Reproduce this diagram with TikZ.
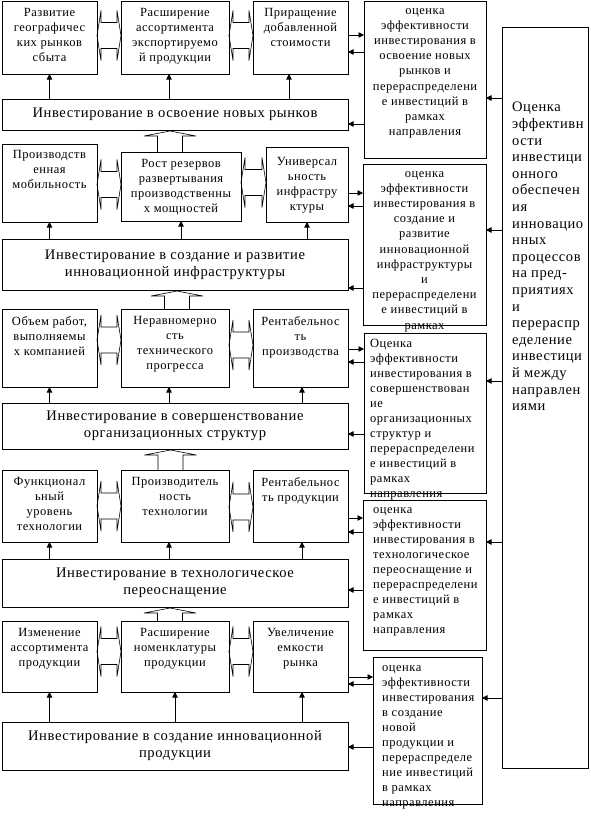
\documentclass[tikz,border=0pt]{standalone}
\usepackage{fontspec}
\setmainfont{Liberation Serif}[LetterSpace=4]
\usetikzlibrary{calc,positioning,arrows.meta}
\tikzstyle{frame} = [draw,fill=white,line width=0.8pt,inner sep=0pt,outer sep=0pt,anchor=north west]
\tikzstyle{arr} = [line width=0.8pt,-{Triangle[length=5.5pt,width=5.5pt]}]
\tikzstyle{twin} = [line width=0.6pt]
\tikzstyle{celltext} = [anchor=north,align=center,inner sep=0pt,font=\fontsize{12.5}{15}\selectfont,execute at begin node=\strut]
\tikzstyle{evaltext} = [celltext,anchor=north west,align=left]
\tikzstyle{widetext} = [align=center,font=\fontsize{14.6}{17}\selectfont]
% hollow two-way arrow between neighbouring boxes
\newcommand{\twoway}[3]{%
  \draw[twin] let \p1=([yshift=#3pt]#1.east), \p2=(#2.west) in
    (\p1) -- (\x1+4pt,\y1+25pt) -- (\x1+4pt,\y1+13pt) -- (\x2-4pt,\y1+13pt)
    -- (\x2-4pt,\y1+25pt) -- (\x2,\y1) -- (\x2-4pt,\y1-25pt) -- (\x2-4pt,\y1-13pt)
    -- (\x1+4pt,\y1-13pt) -- (\x1+4pt,\y1-25pt) -- cycle;}
% hollow block arrow up into the box above
\newcommand{\upblock}[3]{%
  \draw[twin] let \p1=([xshift=#3pt]#1.north), \p2=(#2.south) in
    (\x1+12.5pt,\y1) -- (\x1+12.5pt,\y2-6pt) -- (\x1+26pt,\y2-6pt) -- (\x1,\y2-1pt)
    -- (\x1-26pt,\y2-6pt) -- (\x1-12.5pt,\y2-6pt) -- (\x1-12.5pt,\y1);}

\begin{document}
\begin{tikzpicture}[x=1pt,y=-1pt]
  \useasboundingbox (0,0) rectangle (590,816);

  % row 1
  \node[frame,minimum width=95,minimum height=73] (c11) at (2,1) {};
  \node[celltext] (c11t) at ([yshift=-7.5pt]c11.north) {Развитие\\географичес\\ких рынков\\сбыта};
  \node[frame,minimum width=108,minimum height=73] (c12) at (121,1) {};
  \node[celltext] (c12t) at ([yshift=-7.5pt]c12.north) {Расширение\\ассортимента\\экспортируемо\\й продукции};
  \node[frame,minimum width=95,minimum height=73] (c13) at (253,1) {};
  \node[celltext] (c13t) at ([yshift=-7.5pt]c13.north) {Приращение\\добавленной\\стоимости};
  \node[frame,widetext,minimum width=346,minimum height=31] (w1) at (2,99) {Инвестирование в освоение новых рынков};

  % row 2
  \node[frame,minimum width=95,minimum height=78] (c21) at (2,144) {};
  \node[celltext] (c21t) at ([yshift=-6.5pt]c21.north) {Производств\\енная\\мобильность};
  \node[frame,minimum width=120,minimum height=69] (c22) at (121,152) {};
  \node[celltext] (c22t) at ([yshift=-7pt]c22.north) {Рост резервов\\развертывания\\производственны\\х мощностей};
  \node[frame,minimum width=82,minimum height=75] (c23) at (266,147) {};
  \node[celltext] (c23t) at ([yshift=-10pt]c23.north) {Универсал\\ьность\\инфрастру\\ктуры};
  \node[frame,widetext,minimum width=346,minimum height=51] (w2) at (2,239) {Инвестирование в создание и развитие\\инновационной инфраструктуры};

  % row 3
  \node[frame,minimum width=95,minimum height=78] (c31) at (2,309) {};
  \node[celltext] (c31t) at ([yshift=-7.5pt]c31.north) {Объем работ,\\выполняемы\\х компанией};
  \node[frame,minimum width=108,minimum height=78] (c32) at (121,309) {};
  \node[celltext] (c32t) at ([yshift=-7.5pt]c32.north) {Неравномерно\\сть\\технического\\прогресса};
  \node[frame,minimum width=95,minimum height=78] (c33) at (253,309) {};
  \node[celltext] (c33t) at ([yshift=-7.5pt]c33.north) {Рентабельнос\\ть\\производства};
  \node[frame,widetext,minimum width=346,minimum height=46] (w3) at (2,403) {Инвестирование в совершенствование\\организационных структур};

  % row 4
  \node[frame,minimum width=95,minimum height=72] (c41) at (2,470) {};
  \node[celltext] (c41t) at ([yshift=-7.5pt]c41.north) {Функционал\\ьный\\уровень\\технологии};
  \node[frame,minimum width=108,minimum height=72] (c42) at (121,470) {};
  \node[celltext] (c42t) at ([yshift=-7.5pt]c42.north) {Производитель\\ность\\технологии};
  \node[frame,minimum width=95,minimum height=72] (c43) at (253,470) {};
  \node[celltext] (c43t) at ([yshift=-7.5pt]c43.north) {Рентабельнос\\ть продукции};
  \node[frame,widetext,minimum width=346,minimum height=48] (w4) at (2,559) {Инвестирование в технологическое\\переоснащение};

  % row 5
  \node[frame,minimum width=95,minimum height=71] (c51) at (2,621) {};
  \node[celltext] (c51t) at ([yshift=-7.5pt]c51.north) {Изменение\\ассортимента\\продукции};
  \node[frame,minimum width=108,minimum height=71] (c52) at (121,621) {};
  \node[celltext] (c52t) at ([yshift=-7.5pt]c52.north) {Расширение\\номенклатуры\\продукции};
  \node[frame,minimum width=95,minimum height=71] (c53) at (253,621) {};
  \node[celltext] (c53t) at ([yshift=-7.5pt]c53.north) {Увеличение\\емкости\\рынка};
  \node[frame,widetext,minimum width=346,minimum height=48] (w5) at (2,722) {Инвестирование в создание инновационной\\продукции};

  % evaluation boxes, each one covers the text that runs out of the one above
  \node[frame,minimum width=122,minimum height=157] (e1) at (364,1) {};
  \node[celltext,font=\fontsize{12.5}{15.2}\selectfont] (e1t) at ([yshift=-7pt]e1.north) {оценка\\эффективности\\инвестирования в\\освоение новых\\рынков и\\перераспределени\\е инвестиций в\\рамках\\направления};
  \node[frame,minimum width=123,minimum height=161] (e2) at (363,164) {};
  \node[celltext,font=\fontsize{12.5}{15.2}\selectfont] (e2t) at ([yshift=-7pt]e2.north) {оценка\\эффективности\\инвестирования в\\создание и\\развитие\\инновационной\\инфраструктуры\\и\\перераспределени\\е инвестиций в\\рамках};
  \node[frame,minimum width=122,minimum height=160] (e3) at (364,333) {};
  \node[evaltext,font=\fontsize{12.5}{15}\selectfont] (e3t) at ([xshift=6pt,yshift=-6pt]e3.north west) {Оценка\\эффективности\\инвестирования в\\совершенствован\\ие\\организационных\\структур и\\перераспределени\\е инвестиций в\\рамках\\направления};
  \node[frame,minimum width=123,minimum height=150] (e4) at (363,500) {};
  \node[evaltext,font=\fontsize{12.5}{15}\selectfont] (e4t) at ([xshift=10pt,yshift=-7pt]e4.north west) {оценка\\эффективности\\инвестирования в\\технологическое\\переоснащение и\\перераспределени\\е инвестиций в\\рамках\\направления};
  \node[frame,minimum width=109,minimum height=147] (e5) at (373,657) {};
  \node[evaltext,font=\fontsize{12.5}{15}\selectfont] (e5t) at ([xshift=9pt,yshift=-8pt]e5.north west) {оценка\\эффективности\\инвестирования\\в создание\\новой\\продукции и\\перераспределе\\ние инвестиций\\в рамках\\направления};

  % overall evaluation
  \node[frame,minimum width=86,minimum height=741] (big) at (502,27) {};
  \node[evaltext,font=\fontsize{14.5}{16.6}\selectfont] (bigt) at ([xshift=10pt,yshift=-75pt]big.north west) {Оценка\\эффективн\\ости\\инвестици\\онного\\обеспечен\\ия\\инновацио\\нных\\процессов\\на пред-\\приятиях\\и\\перераспр\\еделение\\инвестици\\й между\\направлен\\иями};

  % two-way links inside each row
  \twoway{c11}{c12}{2}   \twoway{c12}{c13}{2}
  \twoway{c21}{c22}{-1.5} \twoway{c22}{c23}{4}
  \twoway{c31}{c32}{8}   \twoway{c32}{c33}{3}
  \twoway{c41}{c42}{0}   \twoway{c42}{c43}{-1}
  \twoway{c51}{c52}{5}   \twoway{c52}{c53}{5}

  % block arrows between levels
  \upblock{c22}{w1}{-11}
  \upblock{c32}{w2}{2}
  \upblock{c42}{w3}{-4.5}
  \upblock{c52}{w4}{-5}

  % investment box to its factors
  \path[arr]
    (w1.north -| c11) edge (c11.south)
    (w1.north -| 169,0) edge (c12.south -| 169,0)
    (w1.north -| 289,0) edge (c13.south -| 289,0)
    (w2.north -| c21) edge (c21.south)
    (w2.north -| c22) edge (c22.south)
    (w2.north -| c23) edge (c23.south)
    (w3.north -| c31) edge (c31.south)
    (w3.north -| 169,0) edge (c32.south -| 169,0)
    (w3.north -| 302,0) edge (c33.south -| 302,0)
    (w4.north -| c41) edge (c41.south)
    (w4.north -| 169,0) edge (c42.south -| 169,0)
    (w4.north -| 302,0) edge (c43.south -| 302,0)
    (w5.north -| c51) edge (c51.south)
    (w5.north -| c52) edge (c52.south)
    (w5.north -| 302,0) edge (c53.south -| 302,0);

  % links to the evaluation boxes
  \path[arr]
    (c13.east |- 0,35) edge (e1.west |- 0,35)
    (e1.west |- 0,52) edge (c13.east |- 0,52)
    (e1.west |- 0,124) edge (w1.east |- 0,124)
    (c23.east |- 0,193) edge (e2.west |- 0,193)
    (e2.west |- 0,206) edge (c23.east |- 0,206)
    (e2.west |- 0,288) edge (w2.east |- 0,288)
    (c33.east |- 0,349) edge (e3.west |- 0,349)
    (e3.west |- 0,362) edge (c33.east |- 0,362)
    (e3.west |- 0,434) edge (w3.east |- 0,434)
    (c43.east |- 0,518) edge (e4.west |- 0,518)
    (e4.west |- 0,532) edge (c43.east |- 0,532)
    (e4.west |- 0,590) edge (w4.east |- 0,590)
    (c53.east |- 0,677) edge (e5.west |- 0,677)
    (e5.west |- 0,684) edge (c53.east |- 0,684)
    (e5.west |- 0,747) edge (w5.east |- 0,747);

  % overall evaluation to each evaluation box
  \path[arr]
    (big.west |- 0,98) edge (e1.east |- 0,98)
    (big.west |- 0,230) edge (e2.east |- 0,230)
    (big.west |- 0,381) edge (e3.east |- 0,381)
    (big.west |- 0,542) edge (e4.east |- 0,542)
    (big.west |- 0,698) edge (e5.east |- 0,698);
\end{tikzpicture}
\end{document}
